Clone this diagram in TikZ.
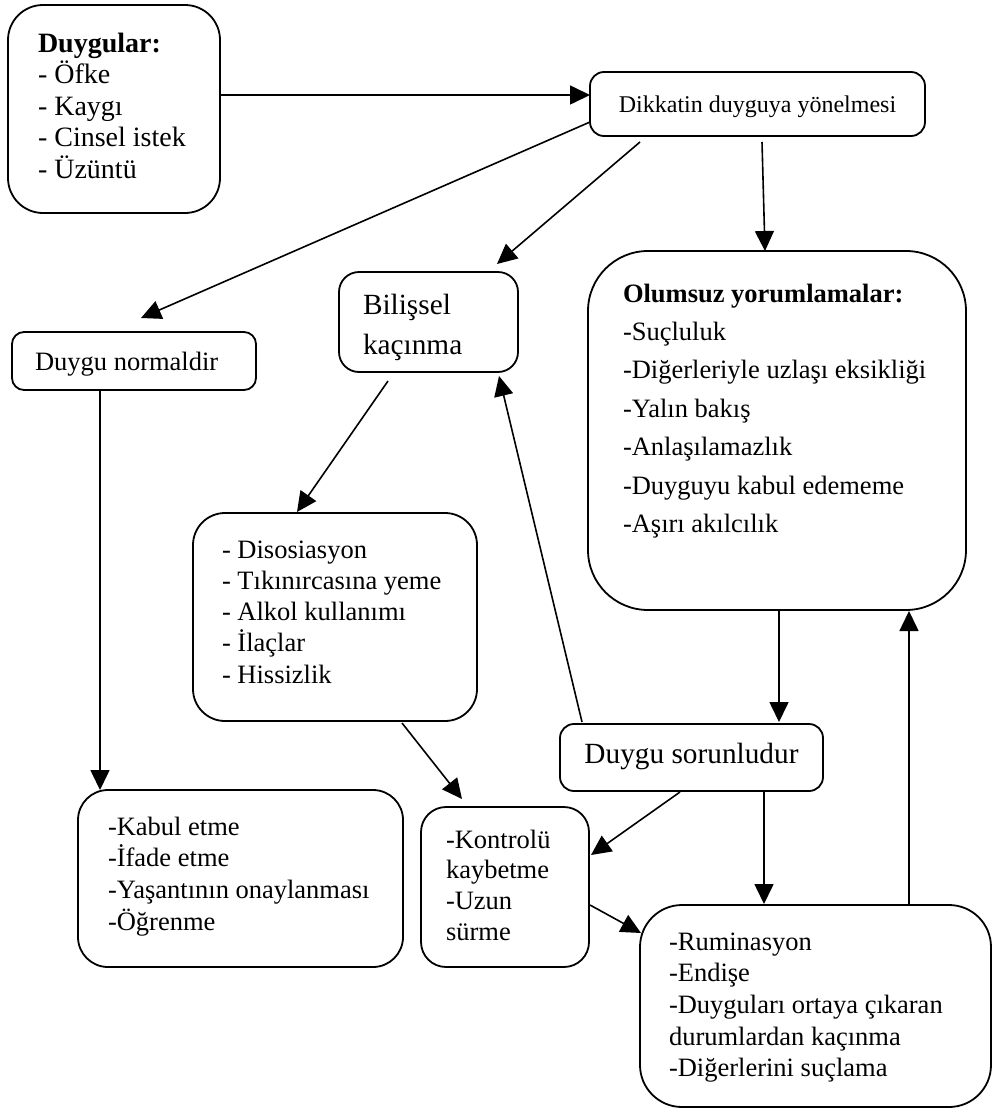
\documentclass[tikz,border=0pt]{standalone}
\usepackage{fontspec}
\setmainfont{Liberation Serif}
\usetikzlibrary{arrows.meta}
\tikzset{
  box/.style={draw, line width=1.8pt, inner sep=0pt, outer sep=0pt},
  txt/.style={inner sep=0pt, outer sep=0pt, anchor=base west},
  fA/.style={font=\fontsize{26.5}{31}\selectfont},
  fB/.style={font=\fontsize{28}{32}\selectfont},
  fC/.style={font=\fontsize{24}{28}\selectfont},
  fD/.style={font=\fontsize{29.3}{34}\selectfont},
  conn/.style={line width=1.6pt, -{Triangle[length=20pt,width=19pt]}}
}
\newcommand\linelist[6]{%
  \foreach \lntext [count=\lnidx] in {#6} {%
    \node[txt,#5] (#1\lnidx) at (#2,{#3+(\lnidx-1)*#4}) {\lntext};}}
\begin{document}
\begin{tikzpicture}[x=1pt,y=-1pt]
\useasboundingbox (0,0) rectangle (992,1111);
% boxes
\node[box, rounded corners=35pt, minimum width=212pt, minimum height=208pt] (duyg) at (114,109) {};
\node[box, rounded corners=14pt, minimum width=335pt, minimum height=64pt] (dikk) at (757.5,104) {};
\node[box, rounded corners=12pt, minimum width=244pt, minimum height=58pt] (norm) at (134,361) {};
\node[box, rounded corners=20pt, minimum width=179pt, minimum height=100pt] (bil) at (428.5,322) {};
\node[box, rounded corners=60pt, minimum width=378pt, minimum height=359pt] (olum) at (777,430.5) {};
\node[box, rounded corners=32pt, minimum width=284pt, minimum height=208pt] (diso) at (335,617) {};
\node[box, rounded corners=30pt, minimum width=325pt, minimum height=177pt] (kab) at (240.5,878.5) {};
\node[box, rounded corners=25pt, minimum width=168pt, minimum height=160pt] (kont) at (505,887) {};
\node[box, rounded corners=14pt, minimum width=263pt, minimum height=67pt] (sor) at (691.5,757.5) {};
\node[box, rounded corners=42pt, minimum width=351pt, minimum height=202pt] (rum) at (815.5,1006) {};
% texts
\linelist{duygT}{38}{52}{31.6}{fB}{\textbf{Duygular:}, - Öfke, - Kaygı, - Cinsel istek, - Üzüntü}
\node[txt, fC, anchor=base] (dikkT) at (757.5,112) {Dikkatin duyguya yönelmesi};
\node[txt, fA] (normT) at (35,370) {Duygu normaldir};
\linelist{bilT}{363}{314}{40}{fD}{Bilişsel, kaçınma}
\linelist{olumT}{623}{302}{38.4}{fA}{\textbf{Olumsuz yorumlamalar:}, -Suçluluk, -Diğerleriyle uzlaşı eksikliği, -Yalın bakış, -Anlaşılamazlık, -Duyguyu kabul edememe, -Aşırı akılcılık}
\linelist{disoT}{222}{558}{31.3}{fA}{- Disosiasyon, - Tıkınırcasına yeme, - Alkol kullanımı, - İlaçlar, - Hissizlik}
\linelist{kabT}{108}{835}{31.7}{fA}{-Kabul etme, -İfade etme, -Yaşantının onaylanması, -Öğrenme}
\linelist{kontT}{446}{848}{30.7}{fA}{-Kontrolü, kaybetme, -Uzun, sürme}
\node[txt, fD, anchor=base] (sorT) at (691.5,763) {Duygu sorunludur};
\linelist{rumT}{669}{950}{31.7}{fA}{-Ruminasyon, -Endişe, -Duyguları ortaya çıkaran, durumlardan kaçınma, -Diğerlerini suçlama}
% connectors
\draw[conn] ([shift={(0,-14)}]duyg.east) -- ([shift={(0,-9)}]dikk.west);
\draw[conn] ([shift={(0,18)}]dikk.west) -- ([shift={(7,-14)}]norm.north);
\draw[conn] ([shift={(50,6)}]dikk.south west) -- ([shift={(-21,-8)}]bil.north east);
\draw[conn] ([shift={(4.5,6)}]dikk.south) -- ([shift={(-12,0)}]olum.north);
\draw[conn] ([shift={(-40.5,9)}]bil.south) -- ([shift={(-38,-1)}]diso.north);
\draw[conn] ([shift={(88,0)}]norm.south west) -- ([shift={(22,0)}]kab.north west);
\draw[conn] ([shift={(209,2)}]diso.south west) -- ([shift={(41,-8)}]kont.north west);
\draw[conn] ([shift={(22,-2)}]sor.north west) -- ([shift={(-19,4)}]bil.south east);
\draw[conn] ([shift={(2,0)}]olum.south) -- ([shift={(87.5,-2)}]sor.north);
\draw[conn] ([shift={(-11.5,1)}]sor.south) -- ([shift={(2,-32)}]kont.east);
\draw[conn] ([shift={(72.5,1)}]sor.south) -- ([shift={(-51.5,-1)}]rum.north);
\draw[conn] ([shift={(1,18)}]kont.east) -- ([shift={(1,28)}]rum.north west);
\draw[conn] ([shift={(93.5,0)}]rum.north) -- ([shift={(132,1)}]olum.south);
\end{tikzpicture}
\end{document}
